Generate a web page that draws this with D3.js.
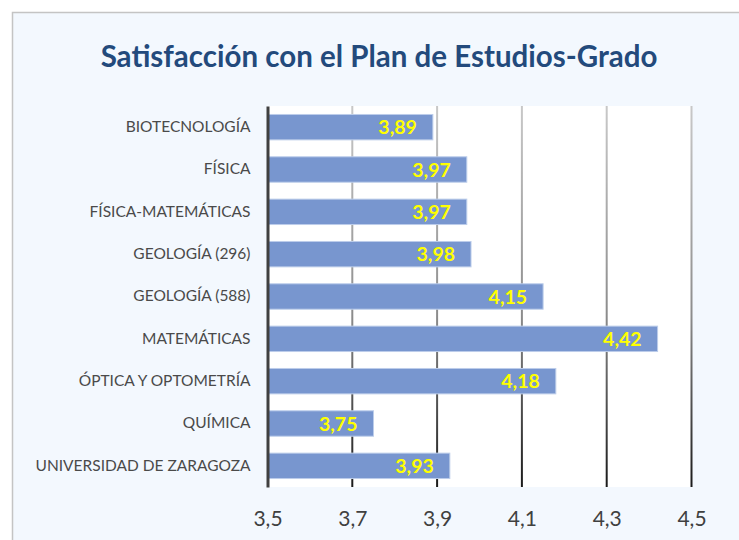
<!DOCTYPE html>
<html>
<head>
<meta charset="utf-8">
<script src="https://cdn.jsdelivr.net/npm/d3@7"></script>
<style>
  body { margin: 0; background: #fff; }
  svg { display: block; }
</style>
</head>
<body>
<svg></svg>
<script>
// Data
const categories = ["BIOTECNOLOGÍA", "FÍSICA", "FÍSICA-MATEMÁTICAS", "GEOLOGÍA (296)", "GEOLOGÍA (588)",
  "MATEMÁTICAS", "ÓPTICA Y OPTOMETRÍA", "QUÍMICA", "UNIVERSIDAD DE ZARAGOZA"];
const values = [3.89, 3.97, 3.97, 3.98, 4.15, 4.42, 4.18, 3.75, 3.93];
const xTicks = [3.5, 3.7, 3.9, 4.1, 4.3, 4.5];

const width = 739;
const height = 540;
const plot = { left: 267.5, right: 691.5, top: 106, bottom: 487 };
const fmt = v => v.toFixed(2).replace(".", ",");

const svg = d3.select("svg")
  .attr("width", width)
  .attr("height", height);

// Chart background and frame
svg.append("rect")
  .attr("x", 12.5).attr("y", 12.5)
  .attr("width", width + 20).attr("height", height + 20)
  .attr("fill", "#F3F8FE")
  .attr("stroke", "#C4C4C4")
  .attr("stroke-width", 1.5);

// Title
svg.append("text")
  .attr("x", 379)
  .attr("y", 67)
  .attr("text-anchor", "middle")
  .attr("font-family", "Lato")
  .attr("font-weight", "bold")
  .attr("font-size", 29.5)
  .attr("fill", "#234A7C")
  .text("Satisfacción con el Plan de Estudios-Grado");

// Scales
const x = d3.scaleLinear().domain([3.5, 4.5]).range([plot.left, plot.right]);
const y = d3.scaleBand().domain(categories).range([plot.top, plot.bottom]).paddingInner(0.4).paddingOuter(0.2);

// Plot area
svg.append("rect")
  .attr("x", plot.left).attr("y", plot.top)
  .attr("width", plot.right - plot.left).attr("height", plot.bottom - plot.top)
  .attr("fill", "#FFFFFF");

// Gridline gradient (light at top, dark at bottom)
const grad = svg.append("defs").append("linearGradient")
  .attr("id", "gridGrad")
  .attr("gradientUnits", "userSpaceOnUse")
  .attr("x1", 0).attr("y1", plot.top)
  .attr("x2", 0).attr("y2", plot.bottom);
grad.append("stop").attr("offset", "0%").attr("stop-color", "#C8C8C8");
grad.append("stop").attr("offset", "55%").attr("stop-color", "#8C8C8C");
grad.append("stop").attr("offset", "100%").attr("stop-color", "#1A1A1A");

svg.append("g")
  .selectAll("line")
  .data(xTicks.slice(1))
  .join("line")
  .attr("x1", d => x(d)).attr("x2", d => x(d))
  .attr("y1", plot.top).attr("y2", plot.bottom)
  .attr("stroke", "url(#gridGrad)")
  .attr("stroke-width", 2);

// Bars
svg.append("g")
  .selectAll("rect")
  .data(values)
  .join("rect")
  .attr("x", x(3.5))
  .attr("y", (d, i) => y(categories[i]))
  .attr("width", d => x(d) - x(3.5))
  .attr("height", y.bandwidth())
  .attr("fill", "#7896CF")
  .attr("stroke", "#BCCDEA")
  .attr("stroke-width", 1);

// Value labels
svg.append("g")
  .selectAll("text")
  .data(values)
  .join("text")
  .attr("x", d => x(d) - 16)
  .attr("y", (d, i) => y(categories[i]) + y.bandwidth() / 2)
  .attr("dy", "0.36em")
  .attr("text-anchor", "end")
  .attr("font-family", "Lato")
  .attr("font-weight", "bold")
  .attr("font-size", 19.5)
  .attr("fill", "#FFFF00")
  .text(fmt);

// Category axis
const yAxis = svg.append("g")
  .attr("transform", `translate(${plot.left},0)`)
  .call(d3.axisLeft(y).tickSize(0).tickPadding(17));
yAxis.select(".domain")
  .attr("stroke", "#404040")
  .attr("stroke-width", 3);
yAxis.selectAll("text")
  .attr("font-family", "Lato")
  .attr("font-size", 15.5)
  .attr("fill", "#4A4A4A");

// Value axis labels
const xAxis = svg.append("g")
  .attr("transform", `translate(0,${plot.bottom})`)
  .call(d3.axisBottom(x).tickValues(xTicks).tickSize(0).tickPadding(24).tickFormat(d => d3.format(".1f")(d).replace(".", ",")));
xAxis.select(".domain").remove();
xAxis.selectAll("text")
  .attr("font-family", "Lato")
  .attr("font-size", 21)
  .attr("fill", "#404040");
</script>
</body>
</html>
